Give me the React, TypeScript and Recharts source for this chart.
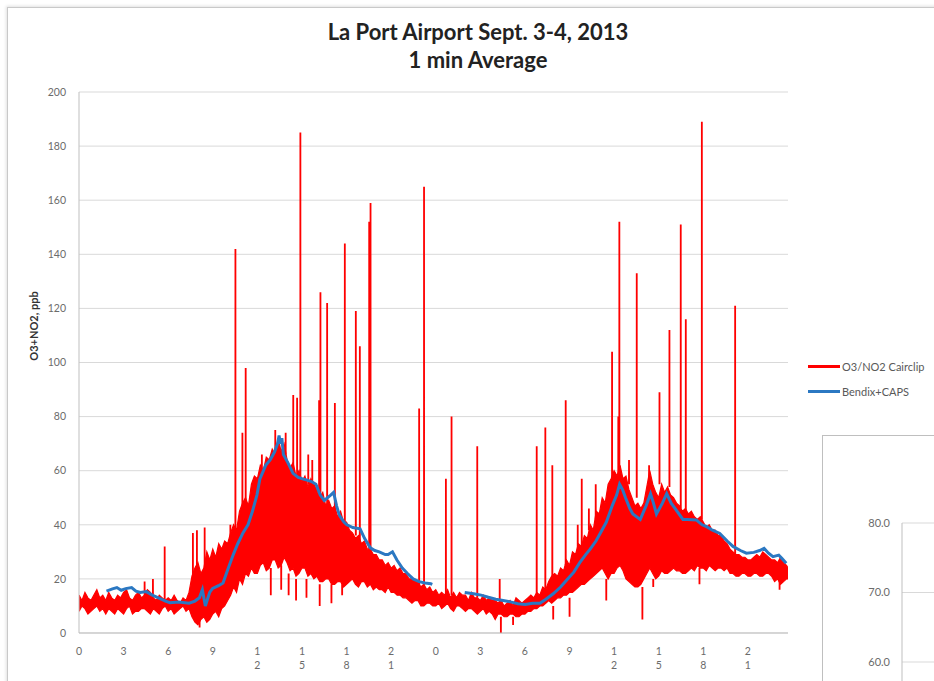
import React from 'react';
import { ComposedChart, LineChart, Line, Area, XAxis, YAxis, CartesianGrid, Label } from 'recharts';

// O3/NO2 Cairclip: body of the noisy 1-min trace, read as upper / lower edge every 12 min (hours 0 .. 47.6)
const RED_STEP = 0.2;
const redHigh: number[] = [
  14, 12, 15, 13, 12, 14, 16, 13, 14, 12,
  15, 13, 12, 14, 13, 15, 16, 13, 12, 14,
  15, 13, 14, 16, 15, 13, 12, 14, 13, 12,
  13, 12, 14, 12, 11, 13, 12, 15, 21, 24,
  26, 22, 24, 30, 27, 31, 28, 33, 31, 34,
  33, 37, 40, 38, 45, 48, 50, 47, 55, 58,
  57, 62, 60, 65, 64, 68, 66, 72, 67, 70,
  64, 61, 63, 58, 60, 56, 58, 54, 57, 55,
  53, 50, 52, 47, 49, 46, 47, 43, 45, 41,
  41, 38, 37, 35, 36, 33, 34, 31, 31, 29,
  29, 27, 27, 25, 26, 24, 25, 23, 24, 22,
  22, 20, 20, 19, 19, 17, 18, 16, 17, 15,
  16, 14, 15, 14, 16, 13, 15, 13, 15, 14,
  14, 12, 15, 13, 13, 12, 14, 12, 13, 12,
  12, 11, 12, 10, 11, 12, 10, 13, 12, 11,
  12, 13, 14, 13, 15, 14, 17, 16, 19, 21,
  22, 21, 24, 23, 27, 25, 30, 29, 33, 32,
  36, 35, 40, 38, 45, 44, 50, 48, 55, 57,
  60, 58, 62, 57, 58, 53, 50, 47, 48, 46,
  48, 54, 60, 55, 52, 50, 55, 52, 54, 51,
  50, 48, 47, 45, 46, 44, 45, 43, 42, 43,
  41, 39, 40, 38, 38, 36, 36, 34, 33, 31,
  30, 29, 29, 28, 28, 27, 27, 28, 29, 28,
  30, 29, 28, 27, 27, 26, 28, 26, 25,
];
const redLow: number[] = [
  8, 10, 9, 7, 8, 9, 10, 8, 9, 7,
  9, 8, 7, 9, 8, 7, 9, 10, 7, 8,
  8, 9, 9, 8, 7, 9, 8, 7, 9, 10,
  8, 9, 7, 8, 9, 10, 8, 9, 6, 4,
  3, 5, 6, 4, 5, 7, 8, 6, 9, 10,
  12, 14, 17, 15, 20, 18, 22, 21, 24, 22,
  22, 25, 26, 23, 24, 27, 27, 24, 25, 28,
  26, 23, 24, 21, 22, 24, 24, 21, 22, 20,
  21, 19, 19, 20, 20, 18, 18, 19, 19, 17,
  18, 19, 20, 18, 17, 19, 19, 17, 18, 16,
  17, 16, 16, 15, 17, 15, 15, 14, 14, 13,
  13, 12, 11, 12, 12, 10, 10, 11, 11, 10,
  10, 11, 9, 10, 11, 9, 8, 10, 10, 9,
  8, 9, 9, 8, 7, 8, 9, 7, 8, 7,
  5, 7, 7, 6, 6, 7, 7, 6, 6, 7,
  7, 8, 8, 9, 9, 10, 10, 11, 12, 11,
  12, 13, 13, 14, 14, 15, 15, 16, 17, 18,
  18, 19, 20, 21, 22, 23, 24, 22, 20, 22,
  22, 24, 25, 23, 20, 19, 18, 17, 17, 18,
  20, 22, 24, 22, 20, 21, 23, 22, 22, 23,
  24, 23, 23, 22, 22, 23, 24, 23, 25, 24,
  24, 23, 25, 24, 23, 24, 24, 23, 24, 22,
  22, 21, 21, 22, 22, 21, 21, 22, 22, 21,
  21, 22, 22, 21, 19, 20, 18, 19, 20,
];
const redLast: [number, number, number] = [47.7, 20, 24];

// single-minute excursions [hour, from ppb, to ppb]
const redSpikes: [number, number, number][] = [
  [4.41, 13, 19], [4.97, 13, 20], [5.76, 12, 32], [7.66, 14, 37], [7.93, 12, 38], [8.45, 15, 39],
  [10.18, 30, 40], [10.52, 35, 142], [10.99, 40, 74], [11.21, 42, 98], [12.3, 58, 66], [13.2, 64, 75],
  [13.9, 66, 74], [14.41, 55, 88], [14.67, 55, 87], [14.89, 55, 185], [15.42, 55, 66], [15.69, 52, 64],
  [16.15, 48, 86], [16.24, 48, 126], [16.69, 46, 122], [17.21, 44, 85], [17.88, 40, 144], [18.62, 36, 119],
  [18.89, 34, 106], [19.52, 30, 152], [19.61, 30, 159], [22.88, 17, 83], [23.21, 16, 165], [24.68, 14, 57],
  [25.06, 14, 80], [26.79, 13, 69], [28.3, 11, 20], [30.79, 14, 69], [31.37, 16, 76], [31.84, 18, 62],
  [32.74, 25, 86], [33.55, 30, 40], [33.82, 32, 57], [34.3, 38, 46], [34.76, 42, 55], [35.86, 55, 104],
  [36.28, 58, 80], [36.35, 58, 152], [37.0, 55, 64], [37.52, 50, 133], [38.35, 55, 62], [39.05, 55, 89],
  [39.72, 54, 112], [40.48, 46, 151], [40.82, 45, 116], [41.9, 42, 189], [44.14, 29, 121],
];
const redDips: [number, number, number][] = [
  [8.11, 5, 2], [12.9, 24, 14], [13.6, 25, 16], [14.1, 22, 14], [14.6, 20, 12], [15.3, 20, 13],
  [16.19, 18, 10], [16.98, 18, 11], [17.7, 18, 14], [28.38, 6, 0], [29.2, 6, 3], [31.9, 10, 5],
  [33.0, 13, 6], [35.47, 20, 12], [37.9, 17, 5], [38.63, 20, 17], [41.74, 24, 18], [47.13, 20, 16],
];

// Bendix+CAPS [hour, ppb]
const blueDay1: [number, number][] = [
  [1.85, 15.5], [2.25, 16.3], [2.55, 16.8], [2.84, 15.8], [3.14, 16.4], [3.54, 16.8],
  [3.83, 15.5], [4.13, 15], [4.53, 15.3], [4.93, 14], [5.42, 12.8], [5.82, 11.8],
  [6.12, 11.2], [6.71, 11.5], [7.41, 11], [7.8, 11.8], [8.1, 13], [8.3, 16],
  [8.5, 10], [8.79, 15], [8.99, 16.5], [9.39, 17.5], [9.69, 18.5], [9.98, 23],
  [10.38, 29], [10.68, 33], [11.03, 37], [11.37, 40], [11.67, 45], [11.97, 51],
  [12.17, 57], [12.56, 62], [12.86, 64], [13.16, 67], [13.36, 70], [13.46, 73],
  [13.55, 70], [13.65, 72], [13.75, 66], [14.05, 63], [14.4, 59], [14.75, 57.5], [15.04, 57],
  [15.34, 56.5], [15.64, 56], [15.94, 55], [16.23, 51], [16.5, 49], [16.93, 51],
  [17.13, 52], [17.33, 47], [17.52, 43.5], [17.82, 41], [18.02, 40], [18.42, 39],
  [18.91, 38.5], [19.21, 35], [19.6, 31.5], [19.9, 30.5], [20.2, 30], [20.6, 29],
  [20.8, 29], [21.09, 30], [21.39, 27], [21.75, 24], [22.1, 22], [22.48, 20],
  [22.88, 19], [23.28, 18.5], [23.67, 18.2], [23.77, 18],
];
const blueDay2: [number, number][] = [
  [25.95, 15], [26.55, 14.5], [27.05, 14], [27.54, 13.2], [28.04, 12.5], [28.53, 12],
  [29.03, 11.5], [29.53, 10.8], [30.02, 10.5], [30.52, 11], [31.01, 11], [31.41, 12.5],
  [31.9, 14.5], [32.4, 17], [32.8, 19.5], [33.29, 22.5], [33.69, 26], [34.09, 29],
  [34.39, 31], [34.78, 34], [35.08, 37], [35.48, 41], [35.87, 47], [36.17, 51],
  [36.37, 55], [36.57, 53], [36.77, 50], [37.06, 46], [37.26, 44], [37.76, 42],
  [38.15, 47], [38.45, 51.5], [38.65, 48], [38.85, 44], [39.25, 48], [39.54, 51.5],
  [39.84, 48], [40.24, 45], [40.63, 42], [40.93, 42], [41.53, 41.8], [41.92, 40],
  [42.22, 39.3], [42.62, 38], [43.11, 36.8], [43.61, 34], [44.0, 32], [44.5, 30.5],
  [44.9, 29.5], [45.4, 29.8], [45.79, 30.5], [46.09, 31.3], [46.39, 29.5], [46.69, 28.2],
  [47.08, 28.8], [47.3, 27.5], [47.58, 25.8],
];

const xTicks = [0, 3, 6, 9, 12, 15, 18, 21, 24, 27, 30, 33, 36, 39, 42, 45];
const yTicks = [0, 20, 40, 60, 80, 100, 120, 140, 160, 180, 200];
const insetTicks = [60, 70, 80];

const bandData = [
  ...redHigh.map((hi, i) => ({ h: Math.round(i * RED_STEP * 100) / 100, range: [redLow[i], hi] })),
  { h: redLast[0], range: [redLast[1], redLast[2]] },
];

// each excursion is its own short segment, separated by a gap
const spikeData = [...redSpikes, ...redDips]
  .sort((a, b) => a[0] - b[0])
  .flatMap(([h, from, to]) => [
    { h, v: from },
    { h: h + 0.004, v: to },
    { h: h + 0.008, v: from },
    { h: h + 0.009, v: null },
  ]);

const blueData = [
  ...blueDay1.map(([h, v]) => ({ h, v })),
  { h: 24.9, v: null },
  ...blueDay2.map(([h, v]) => ({ h, v })),
];

const FONT = 'Lato, "Open Sans", sans-serif';
const TICK_COLOR = '#6b6b6b';
const RED = '#ff0000';
const BLUE = '#2b78c2';

// Excel-style category labels: two digit hours stacked vertically
const HourTick = (props: any) => {
  const { x, y, payload } = props;
  const label = String(payload.value % 24);
  return (
    <text x={x} y={y} textAnchor="middle" fill={TICK_COLOR} fontSize={10.5} fontFamily={FONT}>
      {label.split('').map((d, i) => (
        <tspan key={i} x={x} dy={i === 0 ? 19.5 : 14}>{d}</tspan>
      ))}
    </text>
  );
};

const LegendRow = ({ color, text, top }: { color: string; text: string; top: number }) => (
  <div style={{ position: 'absolute', left: 808, top, display: 'flex', alignItems: 'center' }}>
    <div style={{ width: 32, height: 2.5, background: color, marginRight: 2 }} />
    <span style={{ fontSize: 11, color: '#595959', fontFamily: FONT, whiteSpace: 'nowrap' }}>{text}</span>
  </div>
);

const App: React.FC = () => {
  return (
    <div style={{ position: 'absolute', left: 0, top: 0, width: 934, height: 681, overflow: 'hidden', background: '#fff' }}>
      {/* chart area frame */}
      <div style={{ position: 'absolute', left: 7, top: 7, width: 1000, height: 1000, border: '1px solid #c9c9c9', boxShadow: '-1px -1px 3px rgba(0,0,0,0.12)' }} />

      <div style={{ position: 'absolute', left: 278, top: 18, width: 400, textAlign: 'center', fontFamily: FONT, fontWeight: 700, fontSize: 22, color: '#222', lineHeight: '28px' }}>
        <div>La Port Airport Sept. 3-4, 2013</div>
        <div>1 min Average</div>
      </div>

      <div style={{ position: 'absolute', left: 0, top: 0 }}>
        <ComposedChart width={934} height={681} margin={{ top: 92, right: 146, bottom: 8, left: 39 }}>
          <CartesianGrid horizontal vertical={false} stroke="#d9d9d9" />
          <XAxis
            type="number"
            dataKey="h"
            domain={[0, 47.7]}
            ticks={xTicks}
            interval={0}
            tick={<HourTick />}
            tickLine={false}
            tickSize={0}
            axisLine={{ stroke: '#bfbfbf' }}
            height={40}
            allowDataOverflow
          />
          <YAxis
            type="number"
            domain={[0, 200]}
            ticks={yTicks}
            width={40}
            tickLine={false}
            tickSize={0}
            tickMargin={13}
            axisLine={{ stroke: '#bfbfbf' }}
            tick={{ fontSize: 10.5, fill: TICK_COLOR, fontFamily: FONT }}
            allowDataOverflow
          >
            <Label
              content={() => (
                <text x={38} y={326} transform="rotate(-90 38 326)" textAnchor="middle" fontSize={11} fontWeight={700} fill="#333" fontFamily={FONT}>
                  O3+NO2, ppb
                </text>
              )}
            />
          </YAxis>
          <Area data={bandData} dataKey="range" type="linear" stroke={RED} strokeWidth={1.2} fill={RED} fillOpacity={1} dot={false} activeDot={false} isAnimationActive={false} />
          <Line data={spikeData} dataKey="v" type="linear" stroke={RED} strokeWidth={1.8} dot={false} isAnimationActive={false} />
          <Line data={blueData} dataKey="v" type="linear" stroke={BLUE} strokeWidth={3} dot={false} isAnimationActive={false} />
        </ComposedChart>
      </div>

      <LegendRow color={RED} text="O3/NO2 Cairclip" top={360} />
      <LegendRow color={BLUE} text="Bendix+CAPS" top={385} />

      {/* neighbouring chart, cut off by the window */}
      <div style={{ position: 'absolute', left: 822, top: 435, width: 300, height: 300, border: '1px solid #bfbfbf', background: '#fff' }}>
        <LineChart width={300} height={300} data={[{ h: 0 }, { h: 1 }]} margin={{ top: 87, right: 0, bottom: 4.5, left: 39 }}>
          <CartesianGrid horizontal vertical={false} stroke="#d9d9d9" />
          <XAxis dataKey="h" hide />
          <YAxis
            type="number"
            domain={[50, 80]}
            ticks={insetTicks}
            width={40}
            tickLine={false}
            tickSize={0}
            tickMargin={12}
            axisLine={{ stroke: '#bfbfbf' }}
            tickFormatter={(v: number) => v.toFixed(1)}
            tick={{ fontSize: 11, fill: TICK_COLOR, fontFamily: FONT }}
            allowDataOverflow
          />
          <Line dataKey="v" stroke={BLUE} dot={false} isAnimationActive={false} />
        </LineChart>
      </div>
    </div>
  );
};

export default App;
